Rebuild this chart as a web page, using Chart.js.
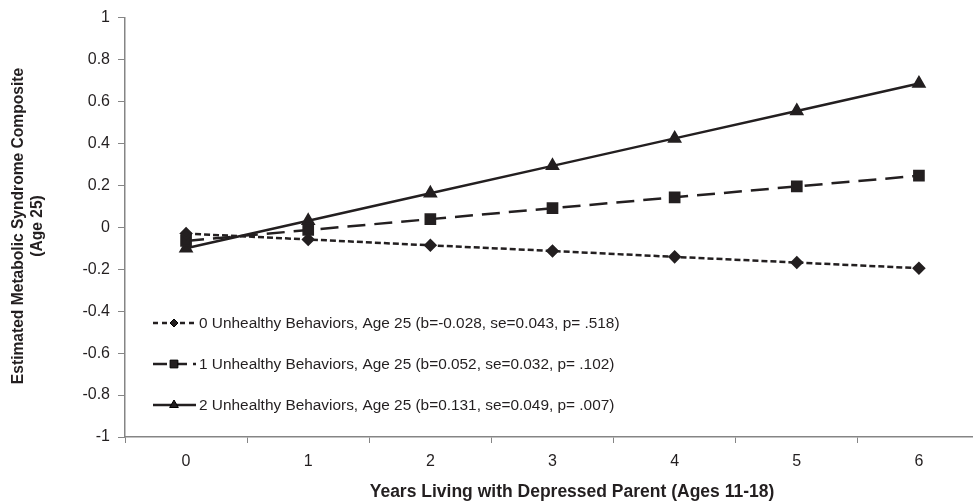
<!DOCTYPE html>
<html>
<head>
<meta charset="utf-8">
<script src="https://cdn.jsdelivr.net/npm/chart.js@4/dist/chart.umd.min.js"></script>
<style>
  html, body { margin: 0; padding: 0; background: #fff; overflow: hidden; }
  /* a little wider than the window: the x axis runs past the right edge */
  #wrap { position: absolute; left: 0; top: 0; width: 980px; height: 504px; }
</style>
</head>
<body>
<div id="wrap"><canvas id="chart1"></canvas></div>
<script>
// values
const years = ['0', '1', '2', '3', '4', '5', '6'];
const noBehaviors = [-0.03, -0.058, -0.086, -0.113, -0.141, -0.168, -0.195];
const oneBehavior = [-0.065, -0.013, 0.039, 0.091, 0.143, 0.195, 0.246];
const twoBehaviors = [-0.10, 0.031, 0.162, 0.293, 0.424, 0.555, 0.686];
const seriesNames = [
  '0 Unhealthy Behaviors, Age 25 (b=-0.028, se=0.043, p= .518)',
  '1 Unhealthy Behaviors, Age 25 (b=0.052, se=0.032, p= .102)',
  '2 Unhealthy Behaviors, Age 25 (b=0.131, se=0.049, p= .007)'
];
const yTitle = ['Estimated Metabolic Syndrome Composite', '(Age 25)'];
const xTitle = 'Years Living with Depressed Parent (Ages 11-18)';

const ink = '#231f20';
const axisGrey = '#858585';
const font = '"Liberation Sans", Arial, sans-serif';

// legend sits inside the plot, lower left; titles placed by hand
const extras = {
  id: 'extras',
  afterDraw(chart) {
    const ctx = chart.ctx;
    ctx.save();
    ctx.fillStyle = ink;
    ctx.textBaseline = 'middle';

    // x title
    ctx.font = 'bold 17.5px ' + font;
    ctx.textAlign = 'center';
    ctx.fillText(xTitle, 572, 492);

    // y title (two lines, rotated)
    ctx.font = 'bold 15.6px ' + font;
    ctx.save();
    ctx.translate(0, 226);
    ctx.rotate(-Math.PI / 2);
    ctx.fillText(yTitle[0], 0, 19);
    ctx.fillText(yTitle[1], 0, 38);
    ctx.restore();

    // legend
    const rows = [323, 364, 405];
    ctx.font = '15.4px ' + font;
    ctx.textAlign = 'left';
    chart.data.datasets.forEach((ds, i) => {
      const y = rows[i];
      ctx.save();
      ctx.strokeStyle = ds.borderColor;
      ctx.lineWidth = ds.borderWidth;
      ctx.setLineDash(ds.legendDash || []);
      ctx.beginPath();
      ctx.moveTo(153, y);
      ctx.lineTo(196, y);
      ctx.stroke();
      ctx.restore();
      Chart.helpers.drawPoint(ctx, {
        pointStyle: ds.pointStyle,
        radius: ds.pointRadius - 1,
        rotation: 0,
        borderWidth: 1
      }, 174, y);
      ctx.fillStyle = ink;
      ctx.fillText(ds.label, 199, y + 1);
    });
    ctx.restore();
  }
};

const ctx1 = document.getElementById('chart1').getContext('2d');
const chart1 = new Chart(ctx1, {
  type: 'line',
  data: {
    labels: years,
    datasets: [
      {
        label: seriesNames[0],
        data: noBehaviors,
        borderColor: ink, backgroundColor: ink,
        borderWidth: 2.5, borderDash: [6, 3], legendDash: [5, 4],
        pointStyle: 'rectRot', pointRadius: 5
      },
      {
        label: seriesNames[1],
        data: oneBehavior,
        borderColor: ink, backgroundColor: ink,
        borderWidth: 2.5, borderDash: [18, 9], legendDash: [14, 6],
        pointStyle: 'rect', pointRadius: 6.5
      },
      {
        label: seriesNames[2],
        data: twoBehaviors,
        borderColor: ink, backgroundColor: ink,
        borderWidth: 2.5,
        pointStyle: 'triangle', pointRadius: 6
      }
    ]
  },
  options: {
    responsive: true,
    maintainAspectRatio: false,
    animation: false,
    layout: { autoPadding: false, padding: { top: 16, right: 0, left: 0, bottom: 0 } },
    plugins: { legend: { display: false }, tooltip: { enabled: false } },
    elements: { line: { tension: 0 }, point: { borderWidth: 1, hoverRadius: 5 } },
    scales: {
      x: {
        offset: true,
        grid: { display: true, offset: true, drawOnChartArea: false, tickLength: 6, color: axisGrey, tickColor: axisGrey },
        border: { color: axisGrey, width: 1.5 },
        ticks: { color: ink, font: { family: font, size: 16 }, padding: 9, maxRotation: 0 },
        afterFit(scale) { scale.height = 67; }
      },
      y: {
        min: -1, max: 1,
        grid: { display: true, drawOnChartArea: false, tickLength: 7, color: axisGrey, tickColor: axisGrey },
        border: { color: axisGrey, width: 1.5 },
        ticks: {
          stepSize: 0.2, color: ink, font: { family: font, size: 16 }, padding: 8,
          callback: v => String(Number(v.toFixed(1)))
        },
        afterFit(scale) { scale.width = 125; }
      }
    }
  },
  plugins: [extras]
});
</script>
</body>
</html>
